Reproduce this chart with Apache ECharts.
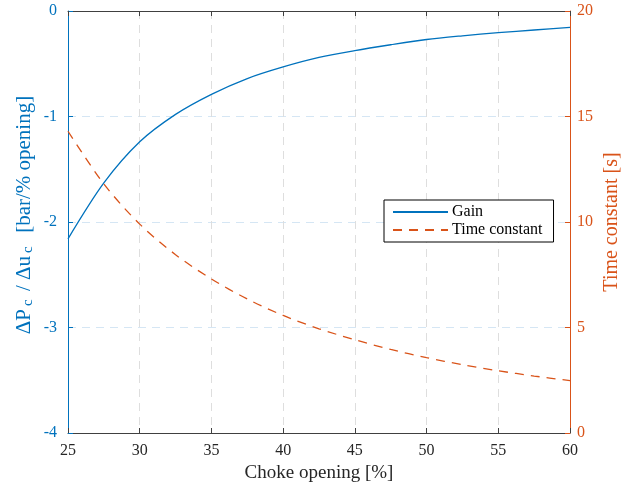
<!DOCTYPE html>
<html>
<head>
<meta charset="utf-8">
<script src="https://cdn.jsdelivr.net/npm/echarts@6/dist/echarts.min.js"></script>
<style>
html,body{margin:0;padding:0;background:#fff;}
#c{width:621px;height:487px;}
</style>
</head>
<body>
<div id="c"></div>
<script>
var opening = [25, 27.5, 30, 32.5, 35, 37.5, 40, 42.5, 45, 47.5, 50, 52.5, 55, 57.5, 60];
var gain = [-2.16, -1.63, -1.24, -0.98, -0.79, -0.64, -0.53, -0.44, -0.375, -0.32, -0.27, -0.235, -0.205, -0.18, -0.155];
var timeConstant = [14.3, 11.8, 9.9, 8.45, 7.3, 6.35, 5.57, 4.94, 4.42, 3.96, 3.57, 3.24, 2.95, 2.70, 2.48];
var xTicks = {min: 25, max: 60, interval: 5};
var leftTicks = {min: -4, max: 0, interval: 1};
var rightTicks = {min: 0, max: 20, interval: 5};

var BLUE = '#0072BD', ORANGE = '#D95319', DARK = '#262626';
var FONT = 'Liberation Serif';

function pairs(xs, ys){ return xs.map(function(x,i){ return [x, ys[i]]; }); }

var chart = echarts.init(document.getElementById('c'), null, {renderer:'canvas'});
chart.setOption({
  animation: false,
  backgroundColor: '#fff',
  grid: {left: 68, right: 51, top: 11, bottom: 54, containLabel: false, outerBoundsMode: 'none'},
  legend: {
    orient: 'vertical', left: 384, top: 200,
    backgroundColor: '#fff', borderColor: '#000', borderWidth: 1,
    padding: [4, 11, 4, 8], itemGap: 2, itemWidth: 55, itemHeight: 15,
    itemStyle: {opacity: 0},
    textStyle: {fontFamily: FONT, fontSize: 16, color: '#000', padding: [0,0,0,-1]},
    data: ['Gain', 'Time constant']
  },
  xAxis: [{
    type: 'value', min: xTicks.min, max: xTicks.max, interval: xTicks.interval,
    name: 'Choke opening [%]', nameLocation: 'middle', nameGap: 31, nameMoveOverlap: false,
    nameTextStyle: {fontFamily: FONT, fontSize: 19, color: DARK},
    axisLine: {show: true, onZero: false, lineStyle: {color: '#404040', width: 1}},
    axisTick: {show: true, inside: true, length: 5, lineStyle: {color: '#404040'}},
    axisLabel: {fontFamily: FONT, fontSize: 16, color: DARK, margin: 10},
    splitLine: {show: true, lineStyle: {color: '#dedede', type: [8, 6], width: 1}}
  }, {
    type: 'value', position: 'top', min: xTicks.min, max: xTicks.max, interval: xTicks.interval,
    axisLine: {show: true, onZero: false, lineStyle: {color: '#404040', width: 1}},
    axisTick: {show: true, inside: true, length: 5, lineStyle: {color: '#404040'}},
    axisLabel: {show: false}, splitLine: {show: false}
  }],
  yAxis: [{
    type: 'value', position: 'left', min: leftTicks.min, max: leftTicks.max, interval: leftTicks.interval,
    name: '{n|ΔP}{s|c}{n| / Δu}{s|c}{n|  [bar/% opening]}', nameLocation: 'middle', nameGap: 32, nameRotate: 90,
    nameMoveOverlap: false,
    nameTextStyle: {
      color: BLUE, fontFamily: FONT, padding: [0, 0, 0, 14],
      rich: {
        n: {fontFamily: FONT, fontSize: 21, color: BLUE, lineHeight: 24},
        s: {fontFamily: FONT, fontSize: 15, color: BLUE, lineHeight: 24, verticalAlign: 'bottom', padding: [12, 3, 0, 3]}
      }
    },
    axisLine: {show: true, onZero: false, lineStyle: {color: BLUE, width: 1}},
    axisTick: {show: true, inside: true, length: 5, lineStyle: {color: BLUE}},
    axisLabel: {fontFamily: FONT, fontSize: 16, color: BLUE, margin: 11},
    splitLine: {show: true, lineStyle: {color: '#d5e6f4', type: [8, 6], width: 1}}
  }, {
    type: 'value', position: 'right', min: rightTicks.min, max: rightTicks.max, interval: rightTicks.interval,
    name: 'Time constant [s]', nameLocation: 'middle', nameGap: 32, nameRotate: 90,
    nameMoveOverlap: false,
    nameTextStyle: {fontFamily: FONT, fontSize: 20, color: ORANGE},
    axisLine: {show: true, onZero: false, lineStyle: {color: ORANGE, width: 1}},
    axisTick: {show: true, inside: true, length: 5, lineStyle: {color: ORANGE}},
    axisLabel: {fontFamily: FONT, fontSize: 16, color: ORANGE, margin: 7},
    splitLine: {show: false}
  }],
  series: [{
    name: 'Gain', type: 'line', xAxisIndex: 0, yAxisIndex: 0,
    data: pairs(opening, gain), smooth: 0.3, showSymbol: false, symbol: 'none',
    lineStyle: {color: BLUE, width: 1.3}, itemStyle: {color: BLUE}
  }, {
    name: 'Time constant', type: 'line', xAxisIndex: 0, yAxisIndex: 1,
    data: pairs(opening, timeConstant), smooth: 0.3, showSymbol: false, symbol: 'none',
    lineStyle: {color: ORANGE, width: 1.3, type: [9, 7]}, itemStyle: {color: ORANGE}
  }]
});
</script>
</body>
</html>
